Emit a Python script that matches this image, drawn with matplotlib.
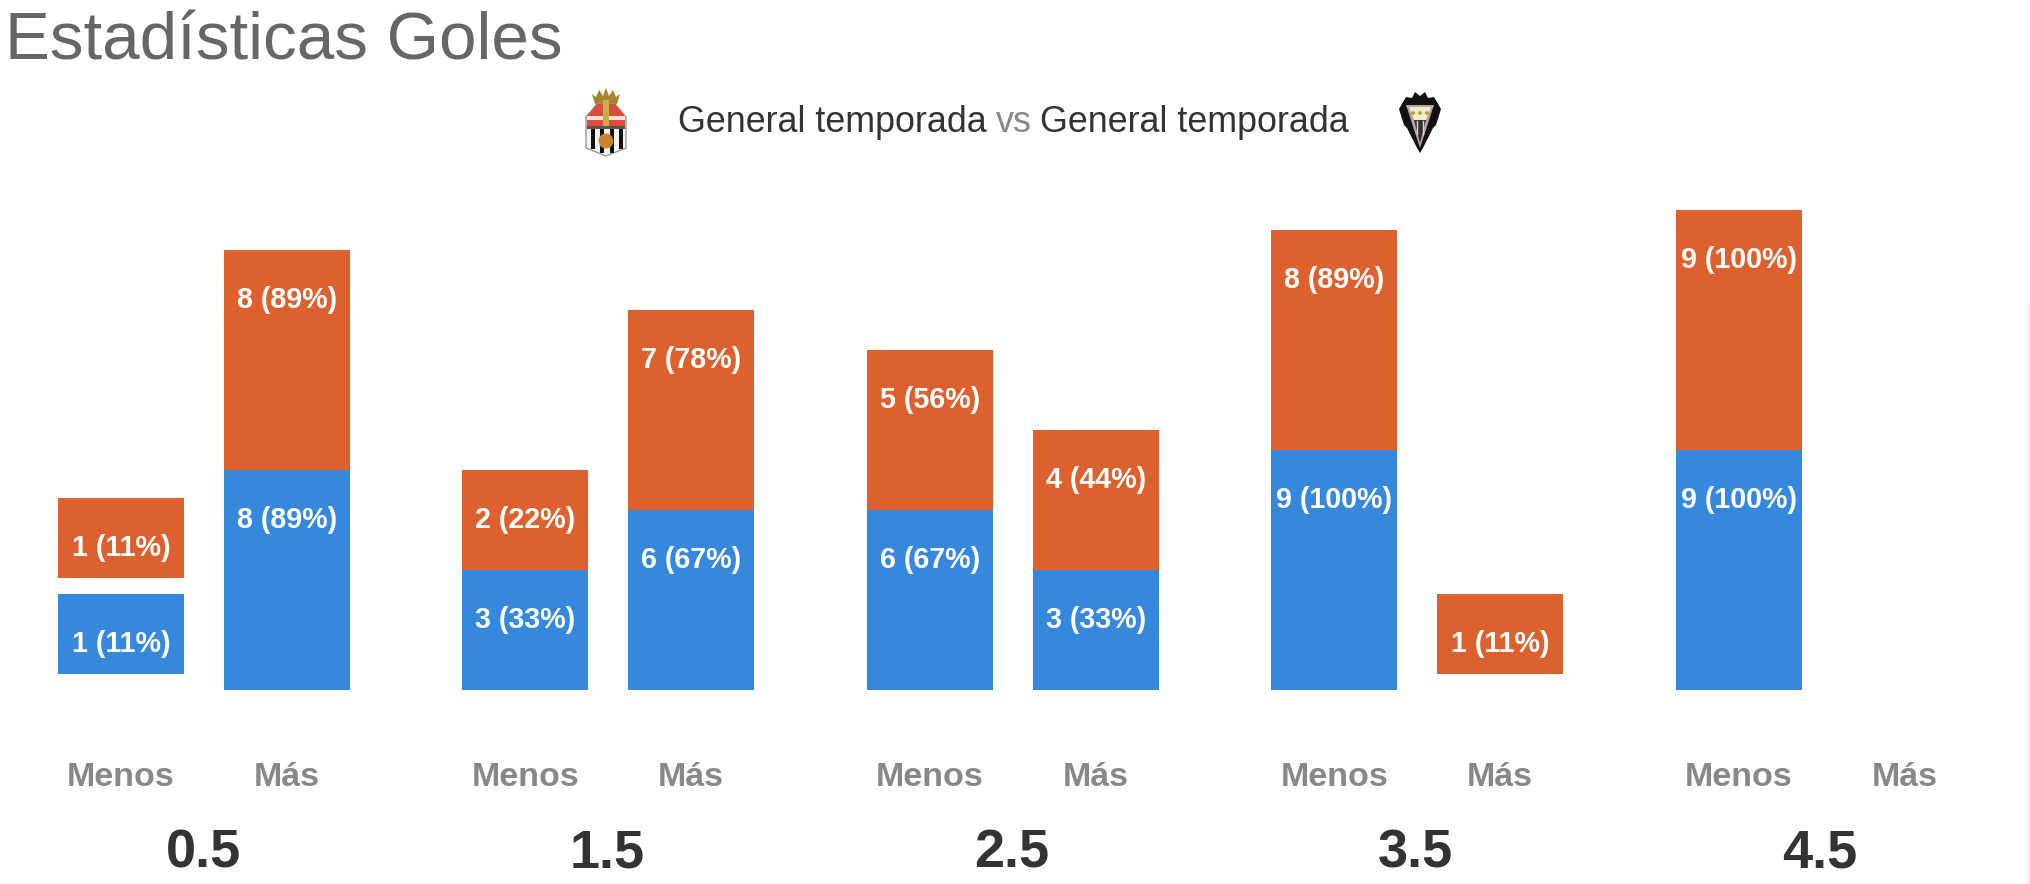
#!/usr/bin/python3

from matplotlib import pyplot as plt
from matplotlib import patches

plt.rcParams['font.family'] = ['Liberation Sans', 'DejaVu Sans']

# =============================================================================

lines        = ['0.5', '1.5', '2.5', '3.5', '4.5']
side_labels  = ['Menos', 'Más']
menos_blue   = [1, 3, 6, 9, 9]
menos_orange = [1, 2, 5, 8, 9]
mas_blue     = [8, 6, 3, 0, 0]
mas_orange   = [8, 7, 4, 1, 0]
matches      = 9

BLUE   = '#3588DC'
ORANGE = '#DD612E'

W, H = 2030, 884

# bar height on the page is not proportional: it has a fixed part, and a
# count of one leaves a small margin below the bar
def Height(v):
	return v + 3

def Margin(v):
	return 0.8 if v == 1 else 0

def Stack(ax, x, blue, orange):
	bottom = 0
	for v, color in ((blue, BLUE), (orange, ORANGE)):
		if v == 0:
			continue
		bottom += Margin(v)
		ax.bar(x, Height(v), bottom=bottom, width=0.3115, color=color, linewidth=0)
		top = bottom + Height(v)
		ax.text(x, top - 2.5, "%d (%d%%)" % (v, round(100 * v / matches)),
			color='white', fontsize=20.6, fontweight='bold', ha='center', va='center')
		bottom = top

def Crest1(ov):
	crown = [(592,94),(596,97),(599,90),(603,96),(606,88),(609,96),(613,90),(616,97),(620,94),(617,104),(595,104)]
	ov.add_patch(patches.Polygon(crown, color='#A8842C', lw=0))
	outline = [(597,104),(615,104),(626,117),(626,148),(606,156),(586,148),(586,117)]
	ov.add_patch(patches.Polygon(outline, facecolor='#F4F4F4', edgecolor='#9A9A9A', lw=1))
	ov.add_patch(patches.Polygon([(597,104),(615,104),(625,116),(587,116)], color='#DE4A3C', lw=0))
	ov.add_patch(patches.Rectangle((587,116), 38, 4, color='#F2E4DC', lw=0))
	ov.add_patch(patches.Rectangle((587,120), 38, 6, color='#DE4A3C', lw=0))
	ov.add_patch(patches.Rectangle((587,126), 38, 3, color='#555555', lw=0))
	for x0, y1 in ((591,149), (600,153), (610,153), (619,149)):
		ov.add_patch(patches.Rectangle((x0,129), 4, y1 - 129, color='#111111', lw=0))
	ov.add_patch(patches.Rectangle((603,100), 6, 26, color='#C2B04A', lw=0))
	ov.add_patch(patches.Circle((606,141), 7.5, color='#C9822E', lw=0))

def Crest2(ov):
	bat = [(1412,98),(1415,92),(1420,96),(1425,92),(1428,98),(1434,97),(1441,109),(1436,125),
		(1433,128),(1424,146),(1420,153),(1416,146),(1407,128),(1404,125),(1399,109),(1406,97)]
	ov.add_patch(patches.Polygon(bat, color='#111111', lw=0))
	ov.add_patch(patches.Polygon([(1406,105),(1434,105),(1420,148)], color='#B9A0A0', lw=0))
	ov.add_patch(patches.Polygon([(1409,107),(1431,107),(1426,120),(1414,120)], color='#F5EBC8', lw=0))
	ov.add_patch(patches.Polygon([(1414,120),(1426,120),(1420,143)], color='#333333', lw=0))
	for x0 in (1417, 1423):
		ov.plot([x0, x0], [121, 134], color='#D8D8D8', linewidth=1)
	for x0 in (1413, 1420, 1427):
		ov.add_patch(patches.Circle((x0,113), 1.8, color='#B89A30', lw=0))

# =============================================================================

if __name__ == '__main__':

	fig = plt.figure(figsize=(W / 100, H / 100), dpi=100, facecolor='white')

	# the bars sit on a baseline 690 px down the page, one unit is 20 px
	ax = fig.add_axes([0, (H - 690) / H, 1, 690 / H])
	ax.set_xlim(-203.7 / 404.5, (W - 203.7) / 404.5)
	ax.set_ylim(0, 690 / 20)
	ax.patch.set_alpha(0)

	for i in range(len(lines)):
		Stack(ax, i - 0.205, menos_blue[i], menos_orange[i])
		Stack(ax, i + 0.205, mas_blue[i], mas_orange[i])

	for spine in ax.spines.values():
		spine.set_visible(False)
	ax.set_yticks([])

	groups = range(len(lines))
	ax.set_xticks([i + d for i in groups for d in (-0.205, 0.205)])
	ax.set_xticklabels(side_labels * len(lines), color='#888888', fontsize=24.5, fontweight='bold')
	ax.set_xticks([0.9985 * i for i in groups], minor=True)
	ax.set_xticklabels(lines, minor=True, color='#333333', fontsize=39, fontweight='bold')
	ax.tick_params(axis='x', which='major', length=0, pad=52)
	ax.tick_params(axis='x', which='minor', length=0, pad=99.5)

	# -------------------------------------------------------------------------

	ov = fig.add_axes([0, 0, 1, 1])
	ov.set_xlim(0, W)
	ov.set_ylim(H, 0)
	ov.axis('off')
	ov.patch.set_alpha(0)

	ov.text(5, 42, "Estadísticas Goles", color='#666666', fontsize=48.5, ha='left', va='center')
	ov.text(678, 123, "General temporada", color='#333333', fontsize=25.8, ha='left', va='center')
	ov.text(1014, 123, "vs", color='#888888', fontsize=25.8, ha='center', va='center')
	ov.text(1040, 123, "General temporada", color='#333333', fontsize=25.8, ha='left', va='center')

	Crest1(ov)
	Crest2(ov)

	ov.plot([2028, 2028], [304, H], color='#EEEEEE', linewidth=1)

	plt.savefig("out.png", dpi=100)
